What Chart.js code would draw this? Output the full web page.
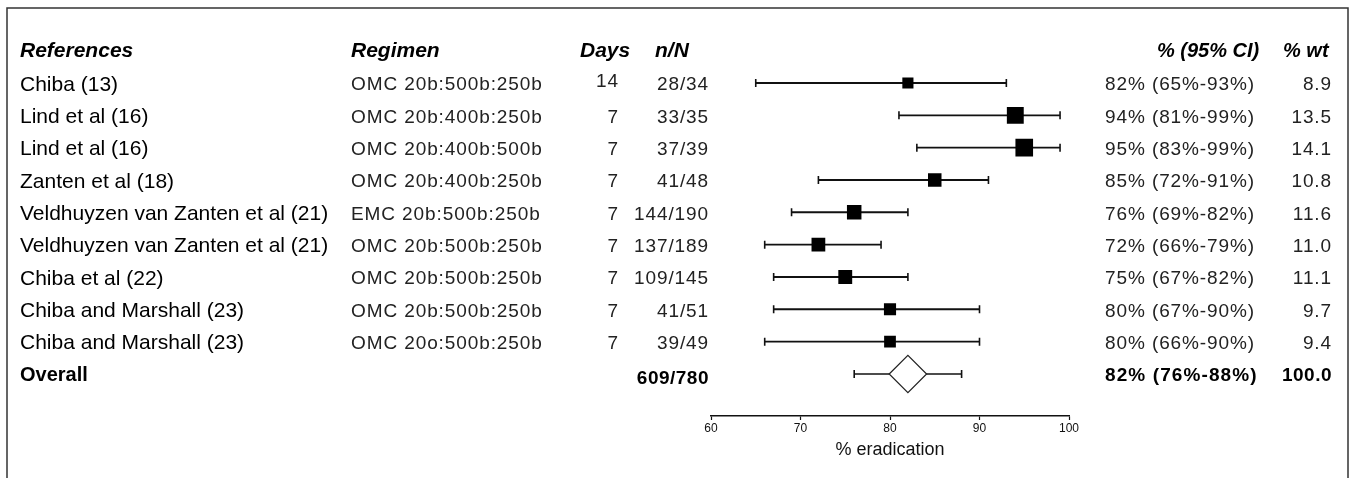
<!DOCTYPE html>
<html>
<head>
<meta charset="utf-8">
<script src="https://cdn.jsdelivr.net/npm/chart.js@4.4.1/dist/chart.umd.min.js"></script>
<style>
html, body { margin: 0; padding: 0; background: #fff; }
</style>
</head>
<body>
<canvas id="forest" width="1355" height="478"></canvas>
<script>
// study rows, top to bottom
const references = ["Chiba (13)", "Lind et al (16)", "Lind et al (16)", "Zanten et al (18)",
  "Veldhuyzen van Zanten et al (21)", "Veldhuyzen van Zanten et al (21)", "Chiba et al (22)",
  "Chiba and Marshall (23)", "Chiba and Marshall (23)"];
const regimens = ["OMC 20b:500b:250b", "OMC 20b:400b:250b", "OMC 20b:400b:500b", "OMC 20b:400b:250b",
  "EMC 20b:500b:250b", "OMC 20b:500b:250b", "OMC 20b:500b:250b", "OMC 20b:500b:250b", "OMC 20o:500b:250b"];
const days = [14, 7, 7, 7, 7, 7, 7, 7, 7];
const nN = ["28/34", "33/35", "37/39", "41/48", "144/190", "137/189", "109/145", "41/51", "39/49"];
const eradication = [82, 94, 95, 85, 76, 72, 75, 80, 80];
const ciLow = [65, 81, 83, 72, 69, 66, 67, 67, 66];
const ciHigh = [93, 99, 99, 91, 82, 79, 82, 90, 90];
const weights = [8.9, 13.5, 14.1, 10.8, 11.6, 11.0, 11.1, 9.7, 9.4];

// pooled result
const overallN = "609/780";
const overallEst = 82;
const overallLow = 76;
const overallHigh = 88;
const overallWt = 100.0;

const xTicks = [60, 70, 80, 90, 100];
const headers = ["References", "Regimen", "Days", "n/N", "% (95% CI)", "% wt"];

const OVERALL_ROW = references.length;
const HEADER_ROW = -1;
const SANS = "'Liberation Sans', Arial, sans-serif";

function ciLabel(est, lo, hi) {
	return est + "% (" + lo + "%-" + hi + "%)";
}

// whiskers: one little line per row, caps done with the 'line' point style turned upright
const whiskerSets = [];
for (let i = 0; i < references.length; i++) {
	whiskerSets.push({
		data: [{x: ciLow[i], y: i}, {x: ciHigh[i], y: i}],
		showLine: true, borderColor: "#111", borderWidth: 1.9,
		pointStyle: "line", pointRotation: 90, pointRadius: 4,
		pointBorderColor: "#111", pointBorderWidth: 1.6, order: 2
	});
}
whiskerSets.push({
	data: [{x: overallLow, y: OVERALL_ROW}, {x: overallHigh, y: OVERALL_ROW}],
	showLine: true, borderColor: "#111", borderWidth: 1.4,
	pointStyle: "line", pointRotation: 90, pointRadius: 4,
	pointBorderColor: "#111", pointBorderWidth: 1.6, order: 2
});

const frame = {
	id: "frame",
	beforeDraw(chart) {
		const ctx = chart.ctx;
		ctx.save();
		ctx.fillStyle = "#fff";
		ctx.fillRect(0, 0, chart.width, chart.height);
		ctx.strokeStyle = "#333";
		ctx.lineWidth = 1.5;
		ctx.beginPath();
		ctx.moveTo(7, chart.height);
		ctx.lineTo(7, 8);
		ctx.lineTo(1348, 8);
		ctx.lineTo(1348, chart.height);
		ctx.stroke();
		ctx.restore();
	}
};

// the table columns either side of the plot, placed on the rows of the y scale
const tableText = {
	id: "tableText",
	afterDraw(chart) {
		const ctx = chart.ctx;
		const ys = chart.scales.y;
		ctx.save();
		ctx.textBaseline = "middle";

		// header row
		let hy = ys.getPixelForValue(HEADER_ROW) + 1;
		ctx.fillStyle = "#000";
		ctx.font = "italic bold 21px " + SANS;
		ctx.textAlign = "left";
		ctx.fillText(headers[0], 20, hy);
		ctx.fillText(headers[1], 351, hy);
		ctx.fillText(headers[2], 580, hy);
		ctx.fillText(headers[3], 655, hy);
		ctx.font = "italic bold 20px " + SANS;
		ctx.fillText(headers[4], 1157, hy);
		ctx.fillText(headers[5], 1283, hy);

		for (let i = 0; i < references.length; i++) {
			let ry = ys.getPixelForValue(i) + 2;
			ctx.letterSpacing = "0px";
			ctx.fillStyle = "#000";
			ctx.font = "21px " + SANS;
			ctx.textAlign = "left";
			ctx.fillText(references[i], 20, ry);

			ctx.fillStyle = "#222";
			ctx.font = "19px " + SANS;
			ctx.letterSpacing = "0.9px";
			ctx.fillText(regimens[i], 351, ry);
			ctx.fillText(ciLabel(eradication[i], ciLow[i], ciHigh[i]), 1105, ry);
			ctx.textAlign = "right";
			ctx.fillText(String(days[i]), 619, i === 0 ? ry - 3 : ry);
			ctx.fillText(nN[i], 709, ry);
			ctx.fillText(weights[i].toFixed(1), 1332, ry);
		}

		// pooled row in bold
		let oy = ys.getPixelForValue(OVERALL_ROW) + 2;
		ctx.letterSpacing = "0px";
		ctx.fillStyle = "#000";
		ctx.font = "bold 20px " + SANS;
		ctx.textAlign = "left";
		ctx.fillText("Overall", 20, oy);
		ctx.font = "bold 19px " + SANS;
		ctx.letterSpacing = "1.1px";
		ctx.fillText(ciLabel(overallEst, overallLow, overallHigh), 1105, oy);
		ctx.textAlign = "right";
		ctx.letterSpacing = "0.5px";
		ctx.fillText(overallN, 709, oy + 3);
		ctx.fillText(overallWt.toFixed(1), 1332, oy);
		ctx.restore();
	}
};

new Chart(document.getElementById("forest"), {
	type: "scatter",
	data: {
		datasets: [
			{
				data: eradication.map((v, i) => ({x: v, y: i})),
				pointStyle: "rect",
				backgroundColor: "#000",
				borderWidth: 0,
				pointRadius: c => weights[c.dataIndex] * 0.884,
				order: 0
			},
			{
				data: [{x: overallEst, y: OVERALL_ROW}],
				pointStyle: "rectRot",
				backgroundColor: "#fff",
				borderColor: "#222",
				borderWidth: 1.2,
				pointRadius: 18.7,
				order: 1
			},
			...whiskerSets
		]
	},
	options: {
		responsive: false,
		animation: false,
		events: [],
		layout: {padding: {left: 711, right: 286, top: 34.5, bottom: 0}},
		plugins: {legend: {display: false}, tooltip: {enabled: false}},
		scales: {
			x: {
				type: "linear",
				min: xTicks[0],
				max: xTicks[xTicks.length - 1],
				afterBuildTicks: s => { s.ticks = xTicks.map(v => ({value: v})); },
				afterFit: s => { s.height = 62; },
				ticks: {color: "#111", font: {family: SANS, size: 12}, padding: 1, maxRotation: 0},
				grid: {drawOnChartArea: false, drawTicks: true, tickLength: 4, color: "#111", tickWidth: 1.2},
				border: {display: true, color: "#111", width: 1.5},
				title: {display: true, text: "% eradication", color: "#111",
					font: {family: SANS, size: 18}, padding: {top: 0, bottom: 17}}
			},
			y: {
				type: "linear",
				reverse: true,
				min: -1.5,
				max: 10.3,
				display: false
			}
		}
	},
	plugins: [frame, tableText]
});
</script>
</body>
</html>
